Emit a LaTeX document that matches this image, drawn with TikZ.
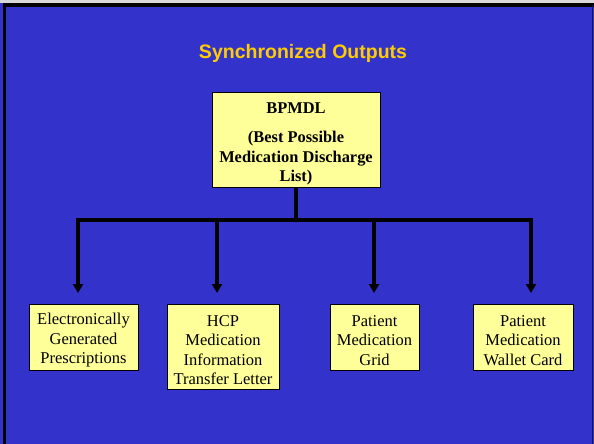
\documentclass[tikz,border=0pt]{standalone}
\usepackage{fontspec}
\setmainfont{Liberation Serif}
\newfontfamily\headfont{Liberation Sans}
\usetikzlibrary{arrows.meta}
\definecolor{slideblue}{RGB}{51,51,204}
\definecolor{boxyellow}{RGB}{255,255,153}
\definecolor{headgold}{RGB}{255,204,0}

\begin{document}
\begin{tikzpicture}[x=1pt, y=-1pt,
	box/.style={draw=black, line width=0.8pt, fill=boxyellow, align=center, anchor=north, inner sep=0pt, font=\fontsize{16.5}{19.5}\selectfont},
	link/.style={line width=4pt},
	feed/.style={line width=4pt, -{Triangle[width=10pt,length=9pt]}}]
	%slide
	\useasboundingbox (0,0) rectangle (594,444);
	\fill[black!15] (0,0) rectangle (594,444);
	\fill[slideblue] (0,3) rectangle (594,444);
	\draw[line width=3.5pt] (4.7,444) -- (4.7,5.2) -- (594,5.2);
	\draw[black!60!slideblue, line width=1pt] (592,5) -- (592,444);
	%title
	\node[font=\headfont\bfseries\fontsize{19.5}{22}\selectfont, text=headgold] (title) at (303,53) {Synchronized Outputs};
	%top box
	\node[box, font=\bfseries\fontsize{16.4}{19.5}\selectfont, minimum width=168pt, minimum height=95pt] (bpmdl) at (296,92)
		{\rule{0pt}{19pt}BPMDL\\[10pt](Best Possible\\Medication Discharge\\List)};
	%outputs
	\node[box, minimum width=109pt, minimum height=66pt] (presc) at (83.5,304) {\rule{0pt}{17pt}Electronically\\Generated\\Prescriptions};
	\node[box, minimum width=112pt, minimum height=85pt] (letter) at (223,304) {\rule{0pt}{17pt}HCP\\Medication\\Information\\Transfer Letter};
	\node[box, minimum width=89pt, minimum height=66pt] (grid) at (374.5,304) {\rule{0pt}{17pt}Patient\\Medication\\Grid};
	\node[box, minimum width=100pt, minimum height=66pt] (card) at (523,304) {\rule{0pt}{17pt}Patient\\Medication\\Wallet Card};
	%bus
	\coordinate (bus) at (296,220);
	\coordinate (busA) at (78,220);
	\coordinate (busB) at (217,220);
	\coordinate (busC) at (374,220);
	\coordinate (busD) at (531,220);
	\coordinate (tipA) at (78,293);
	\coordinate (tipB) at (217,293);
	\coordinate (tipC) at (374,293);
	\coordinate (tipD) at (531,293);
	\draw[link] (bpmdl.south) -- (bus);
	\draw[link, line cap=rect] (busA) -- (busD);
	\draw[feed] (busA) -- (tipA);
	\draw[feed] (busB) -- (tipB);
	\draw[feed] (busC) -- (tipC);
	\draw[feed] (busD) -- (tipD);
\end{tikzpicture}
\end{document}
